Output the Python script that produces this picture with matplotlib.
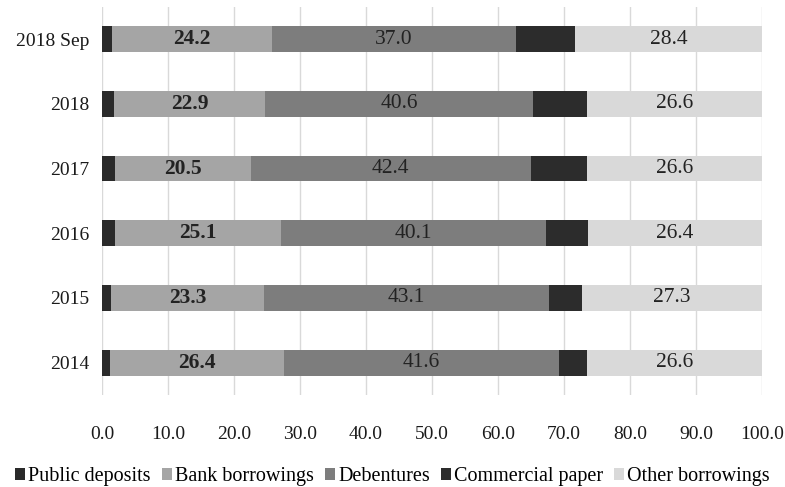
import matplotlib.pyplot as plt
import numpy as np

plt.rcParams['font.family'] = ['Liberation Serif', 'DejaVu Serif']

years = ['2014', '2015', '2016', '2017', '2018', '2018 Sep']
public_deposits = [1.2, 1.3, 2.0, 2.0, 1.8, 1.5]
bank_borrowings = [26.4, 23.3, 25.1, 20.5, 22.9, 24.2]
debentures = [41.6, 43.1, 40.1, 42.4, 40.6, 37.0]
commercial_paper = [4.2, 5.0, 6.4, 8.5, 8.1, 8.9]
other_borrowings = [26.6, 27.3, 26.4, 26.6, 26.6, 28.4]

series = [
    ('Public deposits', public_deposits, '#2a2a2a', None),
    ('Bank borrowings', bank_borrowings, '#a5a5a5', 'bold'),
    ('Debentures', debentures, '#7d7d7d', 'normal'),
    ('Commercial paper', commercial_paper, '#2c2c2c', None),
    ('Other borrowings', other_borrowings, '#d9d9d9', 'normal'),
]

fig = plt.figure(figsize=(7.85, 4.87), dpi=100)
ax = fig.add_axes([0.130, 0.189, 0.841, 0.797])

y = np.arange(len(years))
left = np.zeros(len(years))
for name, vals, color, weight in series:
    vals = np.array(vals)
    ax.barh(y, vals, left=left, height=0.4, color=color, label=name, zorder=3)
    if weight is not None:
        for yi, l, v in zip(y, left, vals):
            ax.text(l + v / 2, yi, f'{v:.1f}', ha='center', va='center',
                    fontsize=15.5, fontweight=weight, color='#222222', zorder=4)
    left += vals

ax.set_xlim(0, 100)
ax.set_ylim(-0.5, 5.5)
ax.set_xticks(np.arange(0, 101, 10))
ax.set_xticklabels([f'{v:.1f}' for v in np.arange(0, 101, 10)])
ax.set_yticks(y)
ax.set_yticklabels(years)
ax.tick_params(length=0, labelsize=14, colors='#1a1a1a')
ax.tick_params(axis='x', pad=22)
ax.tick_params(axis='y', pad=9)
ax.grid(axis='x', color='#d9d9d9', linewidth=1, zorder=0)
for s in ax.spines.values():
    s.set_visible(False)

fig.legend(loc='lower center', bbox_to_anchor=(0.5, -0.035), ncol=5, frameon=False,
           fontsize=14.5, handlelength=0.5, handleheight=0.5, handletextpad=0.15,
           columnspacing=0.55)

fig.savefig('out.png', dpi=100)
